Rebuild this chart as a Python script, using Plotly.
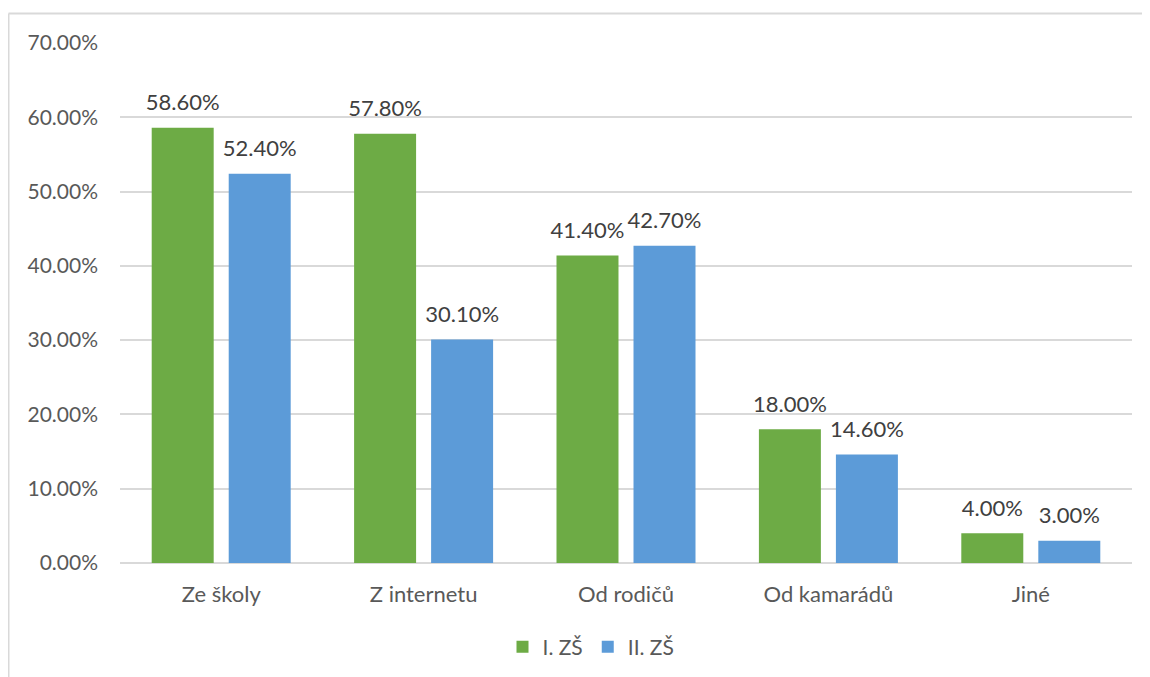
import plotly.graph_objects as go

categories = ["Ze školy", "Z internetu", "Od rodičů", "Od kamarádů", "Jiné"]
series_names = ["I. ZŠ", "II. ZŠ"]
values_1 = [58.6, 57.8, 41.4, 18.0, 4.0]
values_2 = [52.4, 30.1, 42.7, 14.6, 3.0]
y_ticks = [0, 10, 20, 30, 40, 50, 60, 70]

colors = ["#6dab45", "#5c9bd8"]
FONT = "Lato"
BARGAP = 0.239

fig = go.Figure()
for name, vals, col in zip(series_names, [values_1, values_2], colors):
    fig.add_trace(go.Bar(
        x=categories, y=vals, name=name,
        marker=dict(color=col, line=dict(width=0)),
        hoverinfo="skip",
    ))
# value labels, grouped the same way as the bars
for name, vals in zip(series_names, [values_1, values_2]):
    fig.add_trace(go.Scatter(
        x=categories, y=vals, mode="text+markers", showlegend=False,
        marker=dict(size=18, opacity=0),
        text=[f"{v:.2f}%" for v in vals], textposition="top center",
        textfont=dict(family=FONT, size=22, color="#404040"),
        cliponaxis=False, hoverinfo="skip",
    ))

# page body has an 8px margin, so the figure is 8px smaller than the window
W, H = 1142, 669
ml, mr, mt, mb = 112, 18, 35, 114
pw, ph = W - ml - mr, H - mt - mb

fig.update_layout(
    width=W, height=H,
    margin=dict(l=ml, r=mr, t=mt, b=mb, autoexpand=False),
    barmode="group", bargap=BARGAP, bargroupgap=0.195,
    scattermode="group", scattergap=BARGAP,
    plot_bgcolor="white", paper_bgcolor="white",
    font=dict(family=FONT, color="#595959", size=22),
    showlegend=True,
    legend=dict(orientation="h", x=(583 - ml) / pw, xanchor="center",
                y=-84 / ph, yanchor="middle",
                font=dict(family=FONT, size=21, color="#595959"),
                itemwidth=30, traceorder="normal"),
)
fig.update_yaxes(range=[0, 70], tickvals=y_ticks,
                 ticktext=[f"{v:.2f}%" for v in y_ticks],
                 showgrid=True, gridcolor="#d9d9d9", gridwidth=1.5,
                 zeroline=True, zerolinecolor="#d9d9d9", zerolinewidth=1.5,
                 showline=False, ticklabelstandoff=21, automargin=False,
                 tickfont=dict(family=FONT, size=21, color="#595959"))
fig.update_xaxes(showline=False, showgrid=False, ticklabelstandoff=16, automargin=False,
                 tickfont=dict(family=FONT, size=22, color="#595959"))

# chart-area border (Excel-style frame)
bx = (0.5 - ml) / pw
by = (H - mb - 5.5) / ph
fig.add_shape(type="line", xref="paper", yref="paper", x0=bx, x1=1.2, y0=by, y1=by,
              line=dict(color="#d9d9d9", width=2))
fig.add_shape(type="line", xref="paper", yref="paper", x0=bx, x1=bx, y0=by, y1=-0.5,
              line=dict(color="#d9d9d9", width=2))

fig.write_html("out.html")
